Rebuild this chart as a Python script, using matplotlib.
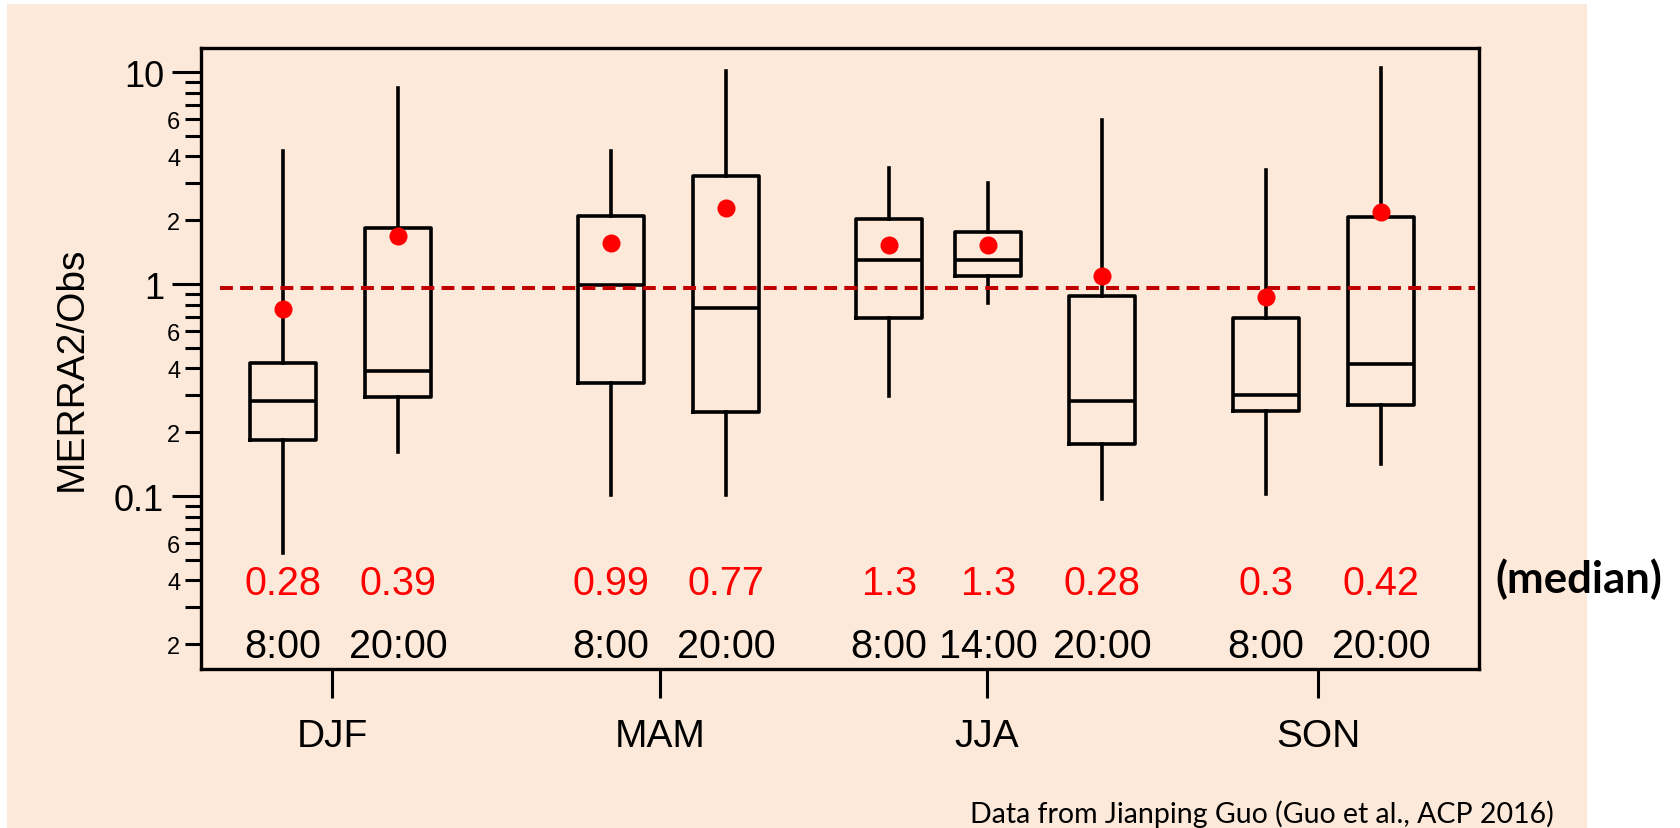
import matplotlib
matplotlib.use("Agg")
import matplotlib.pyplot as plt
import matplotlib.ticker as mticker
from matplotlib.patches import Rectangle
import numpy as np

plt.rcParams["font.family"] = ["Liberation Sans", "DejaVu Sans"]

# MERRA2 / observation ratios by season and hour
hours = ["8:00", "20:00", "8:00", "20:00", "8:00", "14:00", "20:00", "8:00", "20:00"]
whisker_lo = [0.054, 0.162, 0.101, 0.101, 0.297, 0.816, 0.097, 0.102, 0.142]
quart_lo = [0.184, 0.292, 0.341, 0.249, 0.694, 1.094, 0.176, 0.253, 0.269]
medians = [0.28, 0.39, 0.99, 0.77, 1.3, 1.3, 0.28, 0.3, 0.42]
quart_hi = [0.423, 1.84, 2.09, 3.22, 2.02, 1.75, 0.881, 0.691, 2.08]
whisker_hi = [4.23, 8.4, 4.25, 10.07, 3.53, 3.0, 5.96, 3.46, 10.4]
means = [0.762, 1.68, 1.556, 2.29, 1.53, 1.53, 1.087, 0.871, 2.18]

seasons = ["DJF", "MAM", "JJA", "SON"]

# layout on the x axis
box_pos = [0.82, 1.97, 4.10, 5.25, 6.88, 7.87, 9.01, 10.65, 11.80]
season_pos = [1.31, 4.59, 7.86, 11.17]

peach = "#FDE9D9"
lw = 2.6

fig = plt.figure(figsize=(16.81, 8.29), dpi=100, facecolor="white")
fig.patches.append(Rectangle((0.0042, 0.0), 0.9399, 0.994, transform=fig.transFigure,
                             facecolor=peach, edgecolor="none", zorder=-10))

ax = fig.add_axes([0.1196, 0.1918, 0.7603, 0.7491])
ax.set_facecolor(peach)

stats = []
for i in range(len(medians)):
    stats.append({"med": medians[i], "q1": quart_lo[i], "q3": quart_hi[i],
                  "whislo": whisker_lo[i], "whishi": whisker_hi[i], "fliers": []})

ax.bxp(stats, positions=box_pos, widths=0.66, showcaps=False, showfliers=False,
       boxprops=dict(color="black", linewidth=lw),
       whiskerprops=dict(color="black", linewidth=lw),
       medianprops=dict(color="black", linewidth=lw),
       manage_ticks=False)

ax.plot(box_pos, means, "o", color="#FF0000", ms=13, mec="none", zorder=5)

ax.axhline(0.96, xmin=0.015, xmax=0.997, color="#C00000", lw=2.9,
           dashes=(3.2, 1.8), zorder=4)

ax.set_yscale("log")
ax.set_ylim(0.01528, 12.98)
ax.set_xlim(0, 12.78)

# y ticks: decades large, 2/4/6 small
ax.yaxis.set_major_locator(mticker.FixedLocator([0.1, 1, 10]))
ax.yaxis.set_major_formatter(mticker.FixedFormatter(["0.1", "1", "10"]))
ax.yaxis.set_minor_locator(mticker.LogLocator(base=10, subs=np.arange(2, 10)))


def minor_fmt(v, _):
    lead = int(round(v / 10 ** np.floor(np.log10(v) + 1e-9)))
    return str(lead) if lead in (2, 4, 6) else ""


ax.yaxis.set_minor_formatter(mticker.FuncFormatter(minor_fmt))
ax.tick_params(axis="y", which="major", length=21, width=2.2, labelsize=26, pad=5.5)
ax.tick_params(axis="y", which="minor", length=11.5, width=2.2, labelsize=17, pad=3.5)

ax.set_xticks(season_pos)
ax.set_xticklabels(seasons)
ax.tick_params(axis="x", which="major", length=21, width=2.2, labelsize=28, pad=14)
ax.tick_params(axis="x", which="minor", length=0)

for sp in ax.spines.values():
    sp.set_linewidth(2.4)

ax.set_ylabel("MERRA2/Obs", fontsize=28, va="center")
ax.yaxis.set_label_coords(-0.101, 0.485)

# median values and hour labels inside the frame
trans = ax.get_xaxis_transform()
for x, m, h in zip(box_pos, medians, hours):
    ax.text(x, 0.1208, f"{m:g}", transform=trans, ha="center", va="baseline",
            color="#FF0000", fontsize=28.5)
    ax.text(x, 0.0193, h, transform=trans, ha="center", va="baseline",
            color="black", fontsize=28.5)

fig.text(0.8894, 0.2847, "(median)", family="Lato", fontweight="bold",
         fontsize=31.5, va="baseline", ha="left")
fig.text(0.577, 0.0072, "Data from Jianping Guo (Guo et al., ACP 2016)",
         family="Lato", fontsize=20.5, va="baseline", ha="left")

fig.savefig("out.png", dpi=100, facecolor="white")
